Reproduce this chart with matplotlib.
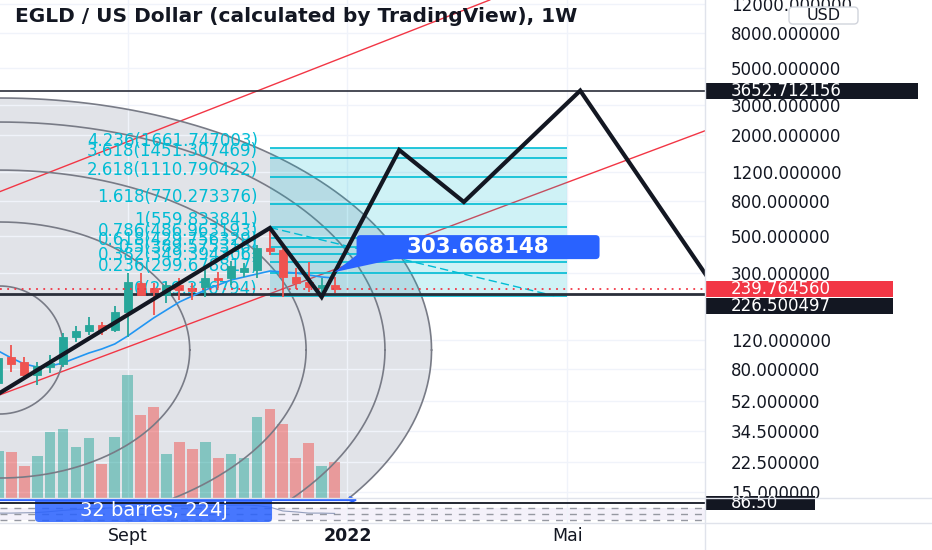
import numpy as np
import matplotlib
matplotlib.use("Agg")
import matplotlib.pyplot as plt
import matplotlib.transforms as mtransforms
from matplotlib.patches import Rectangle, FancyBboxPatch, Polygon
from matplotlib.lines import Line2D
from matplotlib.ticker import FixedLocator, FuncFormatter, NullLocator

# weekly EGLD / USD bars, bar 0 = week of 3 Jan 2022
bar_idx = list(range(-27, 0))
bar_open = [66.4, 94.9, 89.0, 74.1, 83.1, 86.2, 124.8, 135.5, 147.1, 137.4, 175.8, 261.6, 244.2, 221.9,
            254.5, 244.2, 247.6, 281.3, 280.1, 305.4, 312.6, 422.6, 411.2, 284.0, 265.2, 244.2, 254.5]
bar_high = [95.5, 111.8, 95.3, 89.0, 97.5, 131.8, 145.1, 164.1, 153.9, 190.9, 300.0, 301.2, 261.6, 266.3,
            280.1, 261.6, 321.3, 305.4, 353.6, 344.1, 440.3, 540.9, 440.3, 321.3, 350.3, 280.1, 284.0]
bar_low = [64.6, 77.2, 72.4, 64.6, 76.5, 83.1, 117.0, 128.3, 128.3, 134.2, 124.8, 221.9, 168.7, 200.0,
           207.2, 207.2, 216.8, 244.2, 254.5, 285.2, 280.1, 383.9, 216.8, 240.9, 232.2, 221.9, 228.1]
bar_close = [93.6, 86.2, 74.1, 84.2, 87.7, 125.3, 135.5, 147.1, 137.4, 175.8, 265.2, 221.9, 232.2, 254.5,
             237.6, 235.4, 280.1, 272.6, 331.6, 321.3, 422.6, 407.3, 284.0, 262.6, 247.6, 254.5, 239.76]
volume_k = [47, 46, 32, 42, 66, 69, 51, 60, 34, 61, 123, 83, 91, 44, 56, 49, 56, 40, 44, 40, 81, 89, 74,
            40, 55, 32, 36]
ma_blue = [103.0, 93.6, 86.2, 82.7, 83.9, 87.4, 93.6, 100.2, 105.9, 113.4, 126.5, 143.1, 161.9, 180.7,
           201.6, 218.9, 237.6, 254.5, 272.6, 284.0, 295.9, 308.3, 304.1, 300.0, 291.9, 284.0, 280.1]
osc_vals = [53, 53, 54, 55, 58, 62, 65, 67, 69, 71, 73, 75, 76, 77, 77, 78, 78, 79, 79, 80, 78, 73, 60,
            57, 53, 53, 52]

# drawings
zigzag_bar = [-28, -6, -2, 4, 9, 18, 29]
zigzag_price = [51.4, 556.0, 215.9, 1619.0, 793.9, 3652.7, 210.0]

fib_levels = ["4.236", "3.618", "2.618", "1.618", "1", "0.786", "0.618", "0.5", "0.382", "0.236", "0"]
fib_prices = [1661.747003, 1451.307469, 1110.790422, 770.273376, 559.833841, 486.963193, 429.756329,
              389.575318, 349.394306, 299.678817, 219.316794]
fib_start, fib_end = -6, 17

red_upper = [(-26.9, 914.0), (11.0, 12650.0)]
red_lower = [(-26.9, 56.4), (27.6, 2100.0)]
cyan_trend_bar = [-6, 16]
cyan_trend_price = [559.83, 219.32]

circle_center = (-26.9, 104.4)
circle_rx = [4.95, 14.7, 23.7, 29.8, 33.4]       # in bars
circle_ry = [0.381, 0.762, 1.071, 1.357, 1.5]    # in decades

top_line = 3652.712156
low_line = 226.500497
last_price = 239.764560
callout_bar, callout_price = -1, 303.668148
range_start, range_end = -31, 1
range_text = "32 barres, 224j"
osc_level = 86.50

price_ticks = [12000, 8000, 5000, 3000, 2000, 1200, 800, 500, 300, 120, 80, 52, 34.5, 22.5, 15]
month_bars = [-17, 0, 17]
month_labels = ["Sept", "2022", "Mai"]
title = "EGLD / US Dollar (calculated by TradingView), 1W"

TEAL = "#26a69a"
RED = "#ef5350"
CYAN = "#00bcd4"
BLUE = "#2962ff"
INK = "#131722"
GRID = "#f0f3fa"
EDGE = "#e0e3eb"

W, H = 932, 550
PANE_W, PANE_B, OSC_B = 705, 497.5, 523
VOL_TOP = 497.5
TAG_H = 8 / 168  # half tag height in decades
AXIS_FS = 12

fig = plt.figure(figsize=(W / 100, H / 100), dpi=100)
ax = fig.add_axes([0, 1 - PANE_B / H, PANE_W / W, PANE_B / H])
axr = fig.add_axes([0, 1 - OSC_B / H, PANE_W / W, (OSC_B - PANE_B) / H], sharex=ax)
axp = fig.add_axes([PANE_W / W, 1 - PANE_B / H, 1 - PANE_W / W, PANE_B / H], sharey=ax)
axrp = fig.add_axes([PANE_W / W, 1 - OSC_B / H, 1 - PANE_W / W, (OSC_B - PANE_B) / H], sharey=axr)

ax.set_yscale("log")
ax.set_xlim(-26.875, 27.65)
ax.set_ylim(13.83, 12650)
axr.set_ylim(20, 105)
axp.set_xlim(0, 227)
axrp.set_xlim(0, 227)
axp.axis("off")
axrp.axis("off")

for a in (ax, axr):
    for s in a.spines.values():
        s.set_visible(False)

ax.yaxis.tick_right()
ax.yaxis.set_major_locator(FixedLocator(price_ticks))
ax.yaxis.set_minor_locator(NullLocator())
ax.yaxis.set_major_formatter(FuncFormatter(lambda v, _: f"{v:.6f}"))
ax.tick_params(axis="y", length=0, pad=18.5, labelsize=AXIS_FS, labelcolor=INK)
ax.tick_params(axis="x", length=0, labelbottom=False)
axr.set_xticks(month_bars)
axr.set_xticklabels(month_labels)
axr.set_yticks([])
axr.tick_params(axis="x", length=0, pad=3, labelsize=12.5, labelcolor=INK)
axr.get_xticklabels()[1].set_fontweight("bold")
ax.grid(True, color=GRID, lw=1)
ax.set_axisbelow("line")
axr.grid(True, axis="x", color=GRID, lw=1)

# fib circles
t = np.linspace(0, 2 * np.pi, 721)
cx, cp = circle_center
ax.fill(cx + circle_rx[-1] * np.cos(t), cp * 10 ** (circle_ry[-1] * np.sin(t)),
        color="#e1e3e8", lw=0, zorder=1)
for rx, ry in zip(circle_rx, circle_ry):
    ax.plot(cx + rx * np.cos(t), cp * 10 ** (ry * np.sin(t)), color="#787b86", lw=1.2, zorder=2.2)

# volume overlay
vol_tf = mtransforms.blended_transform_factory(ax.transData, ax.transAxes)
for b, v, o, c in zip(bar_idx, volume_k, bar_open, bar_close):
    col = TEAL if c >= o else RED
    ax.add_patch(Rectangle((b - 0.415, 0), 0.83, v / VOL_TOP, transform=vol_tf,
                           fc=col, alpha=0.5, lw=0, zorder=1.6))

# trend channel
ax.axline(red_upper[0], red_upper[1], color="#f23645", lw=1, zorder=2.1)
ax.axline(red_lower[0], red_lower[1], color="#f23645", lw=1, zorder=2.1)

# fib retracement
ax.fill_between([fib_start, fib_end], fib_prices[-1], fib_prices[0], color=CYAN, alpha=0.19, lw=0, zorder=2.5)
ax.hlines(fib_prices, fib_start, fib_end, color=CYAN, lw=1.2, zorder=2.6)
for lvl, p in zip(fib_levels, fib_prices):
    ax.annotate(f"{lvl}({p:.6f})", xy=(fib_start, p), xytext=(-12, 2), textcoords="offset pixels",
                ha="right", va="baseline", color=CYAN, fontsize=12, zorder=2.7)
ax.plot(cyan_trend_bar, cyan_trend_price, color=CYAN, lw=1, ls=(0, (6, 3)), zorder=2.8)

ax.axhline(top_line, color="#2a2e39", lw=1.2, zorder=3)
ax.axhline(low_line, color="#2a2e39", lw=2, zorder=3)

ax.plot(bar_idx, ma_blue, color="#2196f3", lw=1.2, zorder=3.5)

# candles
cols = [TEAL if c >= o else RED for o, c in zip(bar_open, bar_close)]
ax.vlines(bar_idx, bar_low, bar_high, colors=cols, lw=1.3, zorder=4)
lo = np.minimum(bar_open, bar_close)
hi = np.maximum(bar_open, bar_close)
ax.bar(bar_idx, hi - lo, bottom=lo, width=0.62, color=cols, edgecolor=cols, lw=0.6, zorder=4.1)

ax.axhline(last_price, color="#f23645", lw=1.3, ls=(0, (1, 3)), zorder=4.5)
ax.plot(zigzag_bar, zigzag_price, color=INK, lw=3, zorder=5, solid_joinstyle="miter")

ax.text(15 / PANE_W, 1 - 16 / PANE_B, title, transform=ax.transAxes, fontsize=14.5, fontweight="bold",
        color=INK, va="center", ha="left", clip_on=True, zorder=7)

# price callout
px = mtransforms.IdentityTransform()
ancx, ancy = ax.transData.transform((callout_bar, callout_price))
bl, bb = ancx + 22, ancy + 13
ax.add_patch(Polygon([(ancx, ancy), (bl, bb + 4), (bl + 38, bb)], closed=True, transform=px,
                     fc=BLUE, ec=BLUE, lw=0, zorder=6, clip_on=False))
ax.add_patch(FancyBboxPatch((bl, bb), 243, 24, boxstyle="round,pad=0,rounding_size=4", transform=px,
                            fc=BLUE, ec=BLUE, lw=0, zorder=6, clip_on=False))
ax.text(bl + 121.5, bb + 12, f"{callout_price:.6f}", transform=px, color="white", fontsize=15.5,
        fontweight="bold", ha="center", va="center", zorder=6.5)

# lower pane
axr.axhspan(30, 70, color="#7e57c2", alpha=0.08, lw=0)
for lvl in (70, 50, 30):
    axr.axhline(lvl, color="#9598a1", lw=1, ls=(0, (5, 5)))
axr.plot(bar_idx, osc_vals, color="#6a7ba2", lw=0.8, alpha=0.7)
axr.axhline(osc_level, color=INK, lw=1.3, zorder=3)
axr.annotate("", xy=(range_end, 96.5), xytext=(range_start, 96.5),
             arrowprops=dict(arrowstyle="->", color=BLUE, lw=1.5), zorder=2.5)
rcx = axr.transData.transform(((range_start + range_end) / 2, 0))[0]
axr.add_patch(FancyBboxPatch((rcx - 118.5, 28), 237, 24, boxstyle="round,pad=0,rounding_size=4",
                             transform=px, fc=BLUE, ec=BLUE, alpha=0.85, lw=0, zorder=2, clip_on=False))
axr.text(rcx, 40, range_text, transform=px, color="white", fontsize=14, ha="center", va="center", zorder=4)


# axis tags
def tag(axis, center, half, width, text, color):
    if axis is axp:
        y0, y1 = center / 10 ** half, center * 10 ** half
    else:
        y0, y1 = center - half, center + half
    axis.add_patch(Rectangle((0, y0), width, y1 - y0, fc=color, ec=color, lw=0, clip_on=False, zorder=3))
    axis.text(26, center, text, color="white", fontsize=AXIS_FS, va="center", ha="left", zorder=4,
              clip_on=False)


tag(axp, top_line, TAG_H, 213, f"{top_line:.6f}", INK)
tag(axp, last_price, TAG_H, 188, f"{last_price:.6f}", "#f23645")
tag(axp, last_price / 10 ** (17 / 168), TAG_H, 188, f"{low_line:.6f}", INK)
tag(axrp, osc_level, 7 / 0.3, 110, f"{osc_level:.2f}", INK)

fig.add_artist(FancyBboxPatch((789, H - 24), 69, 17, boxstyle="round,pad=0,rounding_size=4", transform=px,
                              fc="white", ec="#d1d4dc", lw=1))
fig.text(823.5, H - 15.5, "USD", transform=px, fontsize=11.5, color=INK, ha="center", va="center")

# pane separators
fig.add_artist(Line2D([PANE_W / W] * 2, [0, 1], transform=fig.transFigure, color=EDGE, lw=1))
for yy in (PANE_B, OSC_B):
    fig.add_artist(Line2D([0, 1], [1 - yy / H] * 2, transform=fig.transFigure, color=EDGE, lw=1))

fig.savefig("out.png", dpi=100, facecolor="white")
